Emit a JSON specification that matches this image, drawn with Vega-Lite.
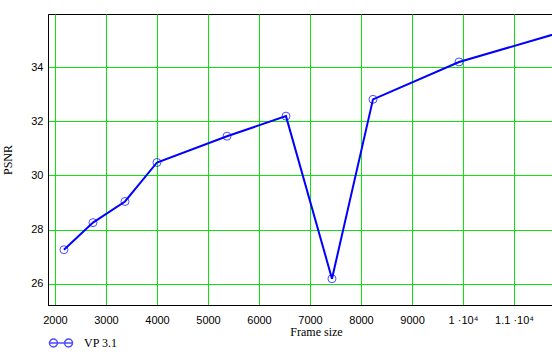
{
  "$schema": "https://vega.github.io/schema/vega-lite/v6.json",
  "width": 506,
  "height": 291,
  "autosize": {"type": "none"},
  "padding": {"left": 48, "top": 14, "right": 0, "bottom": 53},
  "background": "white",
  "config": {
    "view": {"stroke": "black", "strokeWidth": 1},
    "axis": {
      "grid": true,
      "gridColor": "#11e011",
      "gridOpacity": 1,
      "gridWidth": 1,
      "ticks": false,
      "domainColor": "black",
      "domainWidth": 1,
      "labelFont": "Liberation Sans",
      "labelFontSize": 11,
      "labelColor": "black",
      "titleFont": "Liberation Serif",
      "titleFontSize": 12,
      "titleFontWeight": "normal",
      "titleColor": "black"
    }
  },
  "data": {
    "values": [
      {"size": 2176, "psnr": 27.26, "series": "VP 3.1"},
      {"size": 2745, "psnr": 28.26, "series": "VP 3.1"},
      {"size": 3373, "psnr": 29.04, "series": "VP 3.1"},
      {"size": 4000, "psnr": 30.48, "series": "VP 3.1"},
      {"size": 5373, "psnr": 31.45, "series": "VP 3.1"},
      {"size": 6529, "psnr": 32.19, "series": "VP 3.1"},
      {"size": 7431, "psnr": 26.19, "series": "VP 3.1"},
      {"size": 8235, "psnr": 32.81, "series": "VP 3.1"},
      {"size": 9922, "psnr": 34.19, "series": "VP 3.1"},
      {"size": 12200, "psnr": 35.44, "series": "VP 3.1"}
    ]
  },
  "encoding": {
    "x": {
      "field": "size",
      "type": "quantitative",
      "scale": {"domain": [1863, 11784], "nice": false, "zero": false},
      "axis": {
        "title": "Frame size",
        "values": [2000, 3000, 4000, 5000, 6000, 7000, 8000, 9000, 10000, 11000],
        "format": "d",
        "labelExpr": "datum.value == 10000 ? '1 ·10⁴' : (datum.value == 11000 ? '1.1 ·10⁴' : datum.label)",
        "labelPadding": 9,
        "titleX": 268,
        "titleY": 21,
        "titleBaseline": "top",
        "titleAnchor": "start",
        "titleAlign": "center"
      }
    },
    "y": {
      "field": "psnr",
      "type": "quantitative",
      "scale": {"domain": [25.22, 35.96], "nice": false, "zero": false},
      "axis": {
        "title": "PSNR",
        "values": [26, 28, 30, 32, 34],
        "labelPadding": 5,
        "titlePadding": 16
      }
    },
    "color": {
      "field": "series",
      "type": "nominal",
      "scale": {"range": ["#0000ff"]},
      "legend": {
        "title": null,
        "orient": "none",
        "legendX": 0,
        "legendY": 316,
        "symbolType": "M-1,0L1,0M-0.3,0A0.33,0.33 0 1,1 -0.96,0A0.33,0.33 0 1,1 -0.3,0M0.96,0A0.33,0.33 0 1,1 0.3,0A0.33,0.33 0 1,1 0.96,0",
        "symbolSize": 576,
        "symbolFillColor": "transparent",
        "symbolStrokeColor": "#0000ff",
        "symbolStrokeWidth": 1.5,
        "labelFont": "Liberation Serif",
        "labelFontSize": 12,
        "labelColor": "black",
        "labelOffset": 10
      }
    }
  },
  "layer": [
    {
      "mark": {"type": "line", "strokeWidth": 2, "clip": true}
    },
    {
      "mark": {"type": "point", "shape": "circle", "size": 64, "filled": false, "strokeWidth": 1, "clip": true}
    }
  ]
}
